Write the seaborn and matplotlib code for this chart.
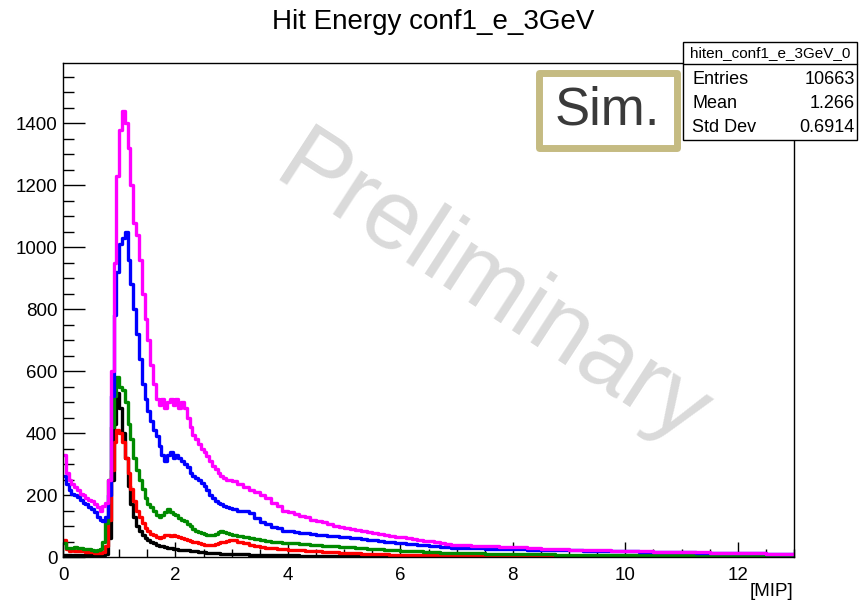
import numpy as np
import pandas as pd
import matplotlib
matplotlib.use("Agg")
import matplotlib.pyplot as plt
import seaborn as sns
from matplotlib.patches import Rectangle
from matplotlib.lines import Line2D
from matplotlib.ticker import MultipleLocator

# ---------------- data ----------------
# bin edges: 0.05 MIP bins on [0,3), 0.1 on [3,7), 0.25 on [7,13]
edges = np.concatenate([np.linspace(0, 3, 61)[:-1],
                        np.linspace(3, 7, 41)[:-1],
                        np.linspace(7, 13, 25)])
centers = 0.5 * (edges[:-1] + edges[1:])

black_vals = [8, 5, 5, 5, 5, 5, 5, 5, 5, 5, 5, 5, 5, 5, 5, 10,
              60, 250, 430, 530, 480, 400, 320, 230, 170, 130, 100, 85, 72, 62, 55, 50, 45, 40, 37, 34,
              32, 30, 28, 26, 25, 24, 23, 22, 21, 20, 19, 18, 17, 16, 15, 14, 14, 13, 12, 12,
              11, 11, 10, 10,
              10, 9, 9, 8, 8, 7, 7, 6, 6, 5, 5, 5, 4, 4, 4, 3, 3, 3, 3, 2,
              2, 2, 2, 2, 1, 1, 1, 1, 1, 1, 1, 1, 1, 1, 1, 0, 0, 0, 0, 0,
              0, 0, 0, 0, 0, 0, 0, 0, 0, 0, 0, 0, 0, 0, 0, 0, 0, 0, 0, 0, 0, 0, 0, 0]

red_vals = [55, 25, 20, 22, 20, 18, 20, 18, 17, 15, 15, 14, 13, 12, 15, 35,
            120, 280, 370, 410, 400, 370, 320, 270, 220, 180, 150, 130, 110, 95, 85, 75, 70, 65, 60, 65,
            70, 72, 68, 70, 68, 65, 60, 58, 55, 52, 50, 47, 44, 42, 40, 38, 38, 40, 42, 45,
            48, 50, 53, 55,
            55, 50, 45, 40, 36, 33, 30, 28, 26, 25, 23, 22, 21, 20, 19, 18, 17, 16, 15, 14,
            13, 12, 12, 11, 10, 10, 9, 9, 8, 8, 7, 7, 6, 6, 6, 5, 5, 5, 4, 4,
            4, 4, 3, 3, 3, 3, 2, 2, 2, 2, 2, 2, 1, 1, 1, 1, 1, 1, 1, 1, 1, 1, 1, 1]

green_vals = [45, 30, 28, 30, 32, 30, 28, 25, 27, 25, 22, 20, 22, 25, 50, 110,
              250, 420, 520, 580, 550, 540, 500, 430, 380, 320, 280, 250, 220, 190, 170, 160, 150, 135, 130, 135,
              145, 155, 145, 140, 135, 125, 120, 115, 105, 100, 90, 85, 80, 78, 75, 72, 70, 72, 75, 82,
              85, 80, 78, 75,
              72, 68, 65, 62, 58, 55, 52, 50, 48, 46, 45, 44, 42, 41, 40, 38, 37, 36, 35, 33,
              32, 31, 30, 28, 27, 26, 25, 23, 22, 21, 20, 19, 18, 18, 17, 16, 15, 14, 14, 13,
              13, 12, 11, 11, 10, 9, 9, 8, 8, 7, 7, 6, 6, 6, 5, 5, 5, 4, 4, 4, 3, 3, 3, 3]

blue_vals = [260, 235, 215, 205, 200, 195, 185, 175, 170, 160, 155, 145, 130, 120, 115, 130,
             200, 520, 780, 920, 1010, 1030, 1050, 960, 880, 800, 720, 640, 560, 510, 470, 440, 410, 390, 360, 330,
             310, 330, 340, 320, 330, 320, 310, 300, 290, 270, 260, 255, 250, 240, 230, 215, 200, 190, 180, 175,
             172, 165, 160, 158,
             155, 150, 148, 142, 125, 112, 105, 98, 94, 85, 85, 80, 77, 76, 74, 72, 70, 68, 67, 66,
             64, 62, 60, 58, 56, 55, 52, 50, 48, 46, 45, 43, 42, 40, 38, 37, 35, 33, 31, 30,
             29, 28, 27, 26, 25, 24, 23, 22, 21, 20, 19, 19, 18, 17, 16, 16, 15, 14, 14, 13, 12, 12, 11, 10]

magenta_vals = [330, 270, 250, 235, 225, 215, 205, 200, 190, 185, 180, 170, 160, 150, 165, 175,
                250, 600, 950, 1230, 1380, 1440, 1400, 1320, 1200, 1080, 1040, 960, 850, 770, 700, 620, 560, 510, 490, 510,
                480, 500, 510, 490, 510, 480, 500, 480, 450, 420, 395, 380, 365, 350, 340, 325, 310, 295, 285, 270,
                262, 255, 250, 248,
                245, 235, 225, 215, 210, 200, 190, 175, 165, 150, 145, 140, 132, 128, 120, 115, 112, 105, 100, 97,
                94, 92, 88, 84, 80, 78, 75, 72, 68, 66, 64, 60, 58, 55, 53, 52, 48, 45, 42, 40,
                40, 37, 35, 33, 32, 30, 27, 25, 23, 22, 21, 20, 19, 18, 17, 17, 16, 15, 14, 14, 13, 12, 11, 10]

series_names = ["black", "red", "green", "blue", "magenta"]
series_colors = ["#000000", "#ff0000", "#008a00", "#0000ff", "#ff00ff"]
series_values = [black_vals, red_vals, green_vals, blue_vals, magenta_vals]

title_text = "Hit Energy conf1_e_3GeV"
stat_name = "hiten_conf1_e_3GeV_0"
stat_labels = ["Entries", "Mean", "Std Dev"]
stat_values = ["10663", "1.266", "0.6914"]

# ---------------- figure ----------------
sns.set_style("ticks")
plt.rcParams['font.family'] = ['Liberation Sans', 'DejaVu Sans']
plt.rcParams['text.color'] = 'black'
plt.rcParams['axes.labelcolor'] = 'black'
plt.rcParams['xtick.color'] = 'black'
plt.rcParams['ytick.color'] = 'black'
plt.rcParams['xtick.labelcolor'] = 'black'
plt.rcParams['ytick.labelcolor'] = 'black'

W, H = 868, 603
fig = plt.figure(figsize=(W / 100, H / 100), dpi=100)
ax = fig.add_axes([63 / W, (H - 557) / H, (794 - 63) / W, (557 - 63) / H])

bin_list = [float(e) for e in edges]
for name, col, vals in zip(series_names, series_colors, series_values):
    df = pd.DataFrame({"x": centers, "w": vals})
    sns.histplot(data=df, x="x", weights="w", bins=bin_list, element="step", fill=False,
                 color=col, linewidth=2.4, ax=ax)

ax.set_xlim(0, 13)
ax.set_ylim(0, 1595)
ax.set_xlabel("")
ax.set_ylabel("")
ax.xaxis.set_major_locator(MultipleLocator(2))
ax.xaxis.set_minor_locator(MultipleLocator(0.5))
ax.yaxis.set_major_locator(MultipleLocator(200))
ax.yaxis.set_minor_locator(MultipleLocator(50))
ax.tick_params(which="both", direction="in", top=False, right=False, color="black",
               labelcolor="black", width=1)
ax.tick_params(axis="y", which="major", length=16, labelsize=13.5, pad=4)
ax.tick_params(axis="y", which="minor", length=8)
ax.tick_params(axis="x", which="major", length=11, labelsize=13.5, pad=7)
ax.tick_params(axis="x", which="minor", length=5.5)
for s in ax.spines.values():
    s.set_linewidth(1)
    s.set_color("black")

# watermark
ax.text(0.566, 0.515, "Preliminary", transform=fig.transFigure, rotation=-33,
        ha="center", va="center", fontsize=71, color="#dadada", zorder=0.5)

# title and axis label
fig.text(433.5 / W, 1 - 22 / H, title_text, ha="center", va="center", fontsize=20, color="black")
fig.text(793 / W, 1 - 592 / H, "[MIP]", ha="right", va="center", fontsize=13.5, color="black")

# "Sim." box
fig.add_artist(Rectangle((538.5 / W, 1 - 147.5 / H), 138 / W, 75 / H, transform=fig.transFigure,
                         facecolor="white", edgecolor="#c5bb82", linewidth=5, joinstyle="round", zorder=5))
fig.text(607 / W, 1 - 110 / H, "Sim.", ha="center", va="center", fontsize=38, color="#3a3a3a", zorder=6)

# stats box
fig.add_artist(Rectangle((683 / W, 1 - 140 / H), 174 / W, 98 / H, transform=fig.transFigure,
                         facecolor="white", edgecolor="black", linewidth=1, zorder=5))
fig.add_artist(Line2D([683 / W, 857 / W], [1 - 64 / H, 1 - 64 / H], transform=fig.transFigure,
                      color="black", linewidth=1, zorder=6))
fig.text(770 / W, 1 - 53 / H, stat_name, ha="center", va="center", fontsize=11, color="black", zorder=7)
for i, (lab, val) in enumerate(zip(stat_labels, stat_values)):
    yy = 1 - (80 + 24 * i) / H
    fig.text(692 / W, yy, lab, ha="left", va="center", fontsize=13, color="black", zorder=7)
    fig.text(855 / W, yy, val, ha="right", va="center", fontsize=13, color="black", zorder=7)

fig.savefig("out.png", dpi=100)
